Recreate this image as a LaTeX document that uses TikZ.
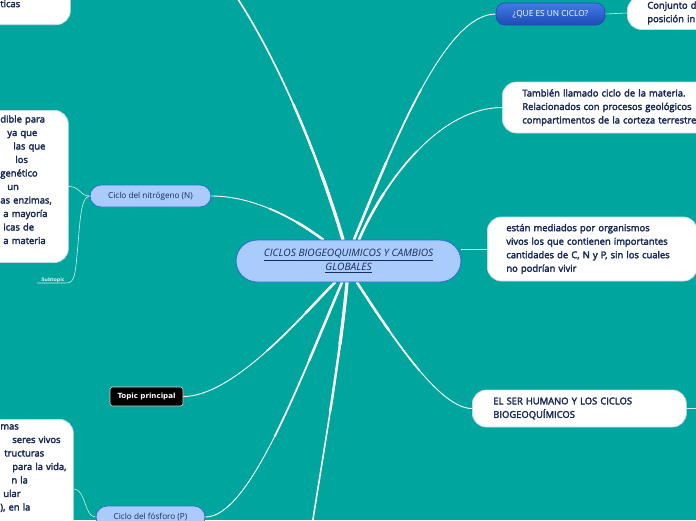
\documentclass[tikz,border=0pt]{standalone}
\usepackage{fontspec}
\setmainfont{Open Sans}
\newfontfamily\semib{Open Sans}[FakeBold=3]
\newfontfamily\dvb{DejaVu Sans}
\usetikzlibrary{calc}
\definecolor{bgteal}{HTML}{00A59E}
\definecolor{nodeblue}{HTML}{A9CCFD}
\definecolor{nodeborder}{HTML}{2C6ED8}
\definecolor{navy}{HTML}{1B2B57}
\definecolor{qtop}{HTML}{4479E6}
\definecolor{qbot}{HTML}{1C4CB3}
\definecolor{subline}{HTML}{D2EEEA}
\definecolor{wborder}{HTML}{C4DAF4}
\definecolor{subtxt}{HTML}{E2F2F0}
\pgfdeclarelayer{back}
\pgfdeclarelayer{lines}
\pgfsetlayers{back,lines,main}
\tikzset{
  topicbox/.style={fill=nodeblue, draw=nodeborder, line width=0.8pt, rounded corners=11pt,
    minimum height=22pt, inner sep=0pt, text=navy, font=\fontsize{8.2}{10}\selectfont},
  centralbox/.style={fill=nodeblue, draw=nodeborder, line width=0.9pt, rounded corners=21pt,
    minimum width=225pt, minimum height=42pt, inner sep=0pt, align=center, text=navy,
    font=\itshape\fontsize{10.2}{13.5}\selectfont},
  qbox/.style={top color=qtop, bottom color=qbot, draw=qbot, line width=0.6pt, rounded corners=9pt,
    minimum width=109pt, minimum height=22pt, inner sep=0pt, text=white,
    font=\fontsize{8.3}{10}\selectfont},
  tpbox/.style={fill=black, draw=white!85!black, line width=0.6pt, rounded corners=2.5pt,
    minimum width=73pt, minimum height=19pt, inner sep=0pt, text=white,
    font=\dvb\bfseries\fontsize{7.1}{9}\selectfont},
  whitebox/.style={fill=white, draw=wborder, line width=0.7pt, rounded corners=14pt, align=left,
    text=navy, font=\semib\fontsize{9.4}{13.5}\selectfont, inner ysep=5pt},
  mainline/.style={draw=white, line cap=round},
  subconn/.style={draw=subline, line width=0.6pt},
}
% tapered connector: start, control 1, control 2, end, end width (pt number)
\newcommand\taperline[5]{%
  \path #1 coordinate (tpA) #2 coordinate (tpB) #3 coordinate (tpC) #4 coordinate (tpD);
  \path ($(tpA)!.5!(tpB)$) coordinate (tpAB) ($(tpB)!.5!(tpC)$) coordinate (tpBC)
        ($(tpC)!.5!(tpD)$) coordinate (tpCD);
  \path ($(tpAB)!.5!(tpBC)$) coordinate (tpABC) ($(tpBC)!.5!(tpCD)$) coordinate (tpBCD);
  \path ($(tpABC)!.5!(tpBCD)$) coordinate (tpM);
  \path ($(tpA)!.5!(tpAB)$) coordinate (qAB) ($(tpAB)!.5!(tpABC)$) coordinate (qBC)
        ($(tpABC)!.5!(tpM)$) coordinate (qCD);
  \path ($(qAB)!.5!(qBC)$) coordinate (qABC) ($(qBC)!.5!(qCD)$) coordinate (qBCD);
  \path ($(qABC)!.5!(qBCD)$) coordinate (qM);
  \draw[mainline, line width=#5pt] (tpA) .. controls (tpB) and (tpC) .. (tpD);
  \draw[mainline, line width=#5pt+0.8pt] (tpA) .. controls (tpAB) and (tpABC) .. (tpM);
  \draw[mainline, line width=#5pt+1.6pt] (tpA) .. controls (qAB) and (qABC) .. (qM);
}
\begin{document}
\begin{tikzpicture}[x=1pt,y=-1pt]
\useasboundingbox (0,0) rectangle (696,520);
\begin{pgfonlayer}{back}
  \fill[bgteal] (0,0) rectangle (696,520);
\end{pgfonlayer}

% central topic
\node[centralbox] (c) at (348.5,261) {\underline{CICLOS BIOGEOQUIMICOS Y CAMBIOS}\\\underline{GLOBALES}};

% right side
\node[qbox] (qec) at (550.5,14) {¿QUE ES UN CICLO?};
\node[whitebox, anchor=west, text width=70pt, inner xsep=20pt, minimum height=32pt] (conj) at (627,13)
  {\mbox{Conjunto d}\\\mbox{posición in}};
\node[whitebox, anchor=west, text width=210pt, inner xsep=20pt, minimum height=51pt] (tam) at (502,107.5)
  {\mbox{También llamado ciclo de la materia.}\\\mbox{Relacionados con procesos geológicos}\\\mbox{compartimentos de la corteza terrestre}};
\node[whitebox, anchor=west, text width=172pt, inner xsep=19pt, minimum height=64pt] (est) at (487,249)
  {\mbox{están mediados por organismos}\\\mbox{vivos los que contienen importantes}\\\mbox{cantidades de C, N y P, sin los cuales}\\\mbox{no podrían vivir}};
\node[whitebox, anchor=west, text width=172pt, inner xsep=21pt, minimum height=37pt] (ser) at (472,408.5)
  {\mbox{EL SER HUMANO Y LOS CICLOS}\\\mbox{BIOGEOQUÍMICOS}};

% left side
\node[topicbox, minimum width=121pt] (nit) at (150.5,196) {Ciclo del nitrógeno (N)};
\node[topicbox, minimum width=109pt] (fos) at (150.5,517) {Ciclo del fósforo (P)};
\node[tpbox] (tp) at (146.5,396.5) {Topic principal};

\node[whitebox, anchor=north west, text width=50pt, inner xsep=18pt] (nw) at (-18,110)
  {\mbox{dible para}\\\mbox{\hspace*{7pt}ya que}\\\mbox{\hspace*{13pt}las que}\\\mbox{\hspace*{15pt}los}\\\mbox{genético}\\\mbox{\hspace*{7pt}un}\\\mbox{as enzimas,}\\\mbox{\hspace*{3pt}a mayoría}\\\mbox{\hspace*{3pt}icas de}\\\mbox{\hspace*{3pt}a materia}\\\mbox{}};
\node[whitebox, anchor=north west, text width=55pt, inner xsep=18pt] (fw) at (-18,419)
  {\mbox{mas}\\\mbox{\hspace*{12pt}seres vivos}\\\mbox{\hspace*{4pt}tructuras}\\\mbox{\hspace*{12pt}para la vida,}\\\mbox{\hspace*{11pt}n la}\\\mbox{\hspace*{3pt}ular}\\\mbox{), en la}\\\mbox{}\\\mbox{}\\\mbox{}};
\node[whitebox, anchor=south west, text width=52pt, inner xsep=18pt, inner ysep=4pt] (tlw) at (-18,25)
  {\mbox{}\\\mbox{}\\\mbox{}\\\mbox{ticas}\\\mbox{}};

\node[font=\dvb\bfseries\fontsize{4.7}{6}\selectfont, text=subtxt, anchor=base, inner sep=1pt] (st) at (53,281) {Subtopic};

% free ends of connectors running out of the picture
\coordinate (tlfree) at (225,-20);
\coordinate (botfree) at (309,545);
\coordinate (serfree) at (700,408.5);
\coordinate (stl) at (37,283);

\begin{pgfonlayer}{lines}
  % main branches
  \taperline{([xshift=-5.5pt]c.north)}{(318,155)}{(275,50)}{(tlfree)}{1.6}
  \taperline{([xshift=5.5pt]c.north)}{(395,140)}{(445,14)}{(qec.west)}{0.9}
  \taperline{([xshift=10.5pt]c.north)}{(385,180)}{(440,107.5)}{(tam.west)}{0.9}
  \taperline{([xshift=-25.5pt]c.north)}{(290,215)}{(250,196)}{(nit.east)}{0.9}
  \taperline{([xshift=-13.5pt]c.south)}{(305,312)}{(235,396.5)}{(tp.east)}{0.9}
  \taperline{([xshift=-6.5pt]c.south)}{(300,380)}{(250,517)}{(fos.east)}{0.9}
  \taperline{([xshift=-1.5pt]c.south)}{(340,360)}{(322,460)}{(botfree)}{1.6}
  \taperline{([xshift=8.5pt]c.south)}{(400,349)}{(442,408.5)}{(ser.west)}{0.9}
  % sub branches
  \draw[subconn] (qec.east) -- (conj.west);
  \draw[subconn] (c.east |- est.west) -- (est.west);
  \draw[subconn] (ser.east) -- (serfree);
  \draw[subconn] (nw.east) .. controls (80,186.5) and (80,196) .. (nit.west);
  \draw[subconn] (nit.west) .. controls (80,197) and (80,225) .. (77,255)
    .. controls (75,280) and (73,283) .. (65,283) -- (stl);
  \draw[subconn] ([yshift=-70pt]fw.north east) .. controls (86,489) and (84,517) .. (fos.west);
\end{pgfonlayer}
\end{tikzpicture}
\end{document}
